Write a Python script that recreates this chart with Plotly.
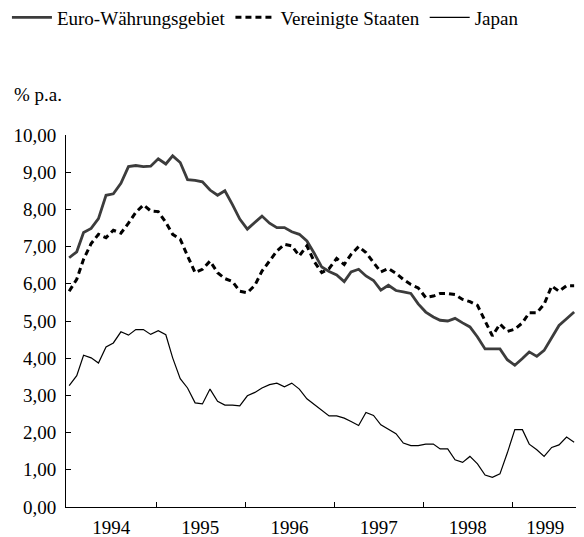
import plotly.graph_objects as go

# Monthly data, Jan 1994 .. Sep 1999 (69 months), % p.a.
years = [1994, 1995, 1996, 1997, 1998, 1999]
months = [f"{y}-{m:02d}-10" for y in years for m in range(1, 13)][:69]

euro = [6.70, 6.86, 7.38, 7.49, 7.75, 8.38, 8.42, 8.70, 9.15, 9.18, 9.15, 9.16,
        9.36, 9.22, 9.44, 9.26, 8.80, 8.78, 8.74, 8.52, 8.38, 8.50, 8.13, 7.74,
        7.47, 7.66, 7.82, 7.63, 7.51, 7.51, 7.40, 7.33, 7.15, 6.82, 6.45, 6.33,
        6.24, 6.06, 6.32, 6.39, 6.21, 6.09, 5.83, 5.96, 5.82, 5.78, 5.74, 5.46,
        5.24, 5.11, 5.02, 5.00, 5.07, 4.95, 4.84, 4.57, 4.25, 4.25, 4.25, 3.96,
        3.81, 3.99, 4.17, 4.05, 4.21, 4.55, 4.88, 5.06, 5.24]

usa = [5.80, 6.12, 6.66, 7.08, 7.33, 7.24, 7.44, 7.36, 7.63, 7.92, 8.12, 7.96,
       7.94, 7.65, 7.33, 7.20, 6.75, 6.30, 6.39, 6.61, 6.30, 6.14, 6.06, 5.80,
       5.76, 5.96, 6.34, 6.61, 6.88, 7.06, 7.02, 6.75, 7.02, 6.60, 6.30, 6.41,
       6.68, 6.52, 6.79, 7.00, 6.84, 6.57, 6.32, 6.41, 6.28, 6.12, 5.98, 5.89,
       5.63, 5.67, 5.74, 5.74, 5.71, 5.58, 5.52, 5.42, 5.00, 4.60, 4.92, 4.72,
       4.78, 4.95, 5.22, 5.22, 5.45, 5.94, 5.80, 5.95, 5.95]

japan = [3.26, 3.53, 4.08, 4.01, 3.87, 4.30, 4.41, 4.71, 4.62, 4.77, 4.77, 4.64,
         4.74, 4.63, 4.01, 3.45, 3.20, 2.80, 2.77, 3.17, 2.84, 2.74, 2.74, 2.72,
         2.99, 3.08, 3.20, 3.29, 3.33, 3.23, 3.33, 3.17, 2.91, 2.75, 2.59, 2.45,
         2.45, 2.39, 2.30, 2.19, 2.54, 2.46, 2.21, 2.08, 1.97, 1.72, 1.65, 1.65,
         1.69, 1.69, 1.56, 1.56, 1.27, 1.20, 1.36, 1.16, 0.86, 0.80, 0.89, 1.45,
         2.08, 2.08, 1.69, 1.54, 1.36, 1.60, 1.67, 1.88, 1.74]

year_labels = ["1994", "1995", "1996", "1997", "1998", "1999"]
year_label_pos = ["1994-07-01", "1995-07-01", "1996-07-01", "1997-07-01",
                  "1998-07-01", "1999-05-15"]
year_bounds = ["1995-01-01", "1996-01-01", "1997-01-01", "1998-01-01", "1999-01-01"]

y_ticks = [0, 1, 2, 3, 4, 5, 6, 7, 8, 9, 10]
y_tick_text = ["0,00", "1,00", "2,00", "3,00", "4,00", "5,00",
               "6,00", "7,00", "8,00", "9,00", "10,00"]

FONT = "Liberation Serif"

fig = go.Figure()
fig.add_trace(go.Scatter(x=months, y=euro, mode="lines", name="Euro-Währungsgebiet",
                         line=dict(color="#3c3c3c", width=2.8)))
fig.add_trace(go.Scatter(x=months, y=usa, mode="lines", name="Vereinigte Staaten",
                         line=dict(color="#000000", width=3, dash="6px,4px")))
fig.add_trace(go.Scatter(x=months, y=japan, mode="lines", name="Japan",
                         line=dict(color="#000000", width=1.2)))

# page body has an 8px default margin, so the figure is 8px smaller than the window
fig.update_layout(
    width=576, height=529,
    margin=dict(l=58, r=4, t=127, b=30, autoexpand=False),
    paper_bgcolor="white", plot_bgcolor="white",
    font=dict(family=FONT, size=19, color="#000000"),
    showlegend=True,
    legend=dict(orientation="h", x=-0.1149, xanchor="left", y=1.3159, yanchor="middle",
                font=dict(family=FONT, size=19), bgcolor="rgba(0,0,0,0)",
                itemwidth=40, tracegroupgap=0),
    annotations=[dict(text="% p.a.", xref="paper", yref="paper",
                      x=-0.105, y=1.110, xanchor="left", yanchor="middle",
                      showarrow=False, font=dict(family=FONT, size=19))],
)

fig.update_xaxes(
    type="date", range=["1993-12-28", "1999-10-04"],
    tickmode="array", tickvals=year_label_pos, ticktext=year_labels,
    ticks="", showgrid=False, zeroline=False,
    showline=True, linecolor="#000000", linewidth=1,
    minor=dict(tickmode="array", tickvals=year_bounds, ticks="inside",
               ticklen=5, tickcolor="#000000", tickwidth=1, showgrid=False),
    tickfont=dict(family=FONT, size=19), ticklabelstandoff=3,
)
fig.update_yaxes(
    range=[0, 10], tickmode="array", tickvals=y_ticks, ticktext=y_tick_text,
    ticks="inside", ticklen=5, tickcolor="#000000", tickwidth=1,
    showgrid=False, zeroline=False,
    showline=True, linecolor="#000000", linewidth=1,
    tickfont=dict(family=FONT, size=19), ticklabelstandoff=5,
)

fig.write_html("out.html")
